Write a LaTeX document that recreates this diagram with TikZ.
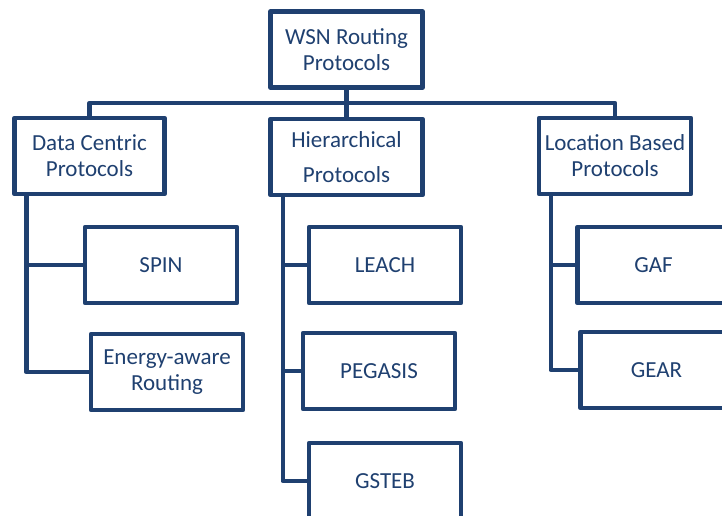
\documentclass[tikz,border=0pt]{standalone}
\usepackage{fontspec}
\setmainfont{Carlito}
\definecolor{navy}{RGB}{31,64,112}

\begin{document}
\begin{tikzpicture}[x=1pt,y=-1pt,
  box/.style={draw=navy,line width=4.5pt,line join=round,text=navy,
    minimum width=152pt,minimum height=76pt,align=center,
    font=\fontsize{23}{26}\selectfont},
  link/.style={draw=navy,line width=4.5pt,line join=round}]
  \useasboundingbox (0,0) rectangle (722,516);
  \clip (0,0) rectangle (722,516);
  \node[box] (root) at (346.5,49.5) {WSN Routing\\Protocols};
  \node[box,minimum width=150pt] (dc) at (89.5,156) {Data Centric\\Protocols};
  \node[box] (hier) at (346.5,157) {Hierarchical\\[9pt]Protocols};
  \node[box] (loc) at (615,156) {Location Based\\Protocols};
  \node[box] (spin) at (161,265) {SPIN};
  \node[box] (energy) at (167,372) {Energy-aware\\Routing};
  \node[box] (leach) at (385,265) {LEACH};
  \node[box] (pegasis) at (379,371) {PEGASIS};
  \node[box] (gsteb) at (385,481) {GSTEB};
  \node[box] (gaf) at (653.5,265) {GAF};
  \node[box] (gear) at (656.5,370) {GEAR};
  \coordinate (bar) at (346.5,103);
  \coordinate (dcs) at ([xshift=14pt]dc.south west);
  \coordinate (hs) at ([xshift=14.5pt]hier.south west);
  \coordinate (ls) at ([xshift=14pt]loc.south west);
  \draw[link] (root) -- (hier);
  \draw[link] (dc.north) |- (bar) -| (loc.north);
  \draw[link] (dcs) |- (energy.west);
  \draw[link] (spin.west) -- (spin.west -| dcs);
  \draw[link] (hs) |- (gsteb.west);
  \draw[link] (leach.west) -- (leach.west -| hs);
  \draw[link] (pegasis.west) -- (pegasis.west -| hs);
  \draw[link] (ls) |- (gear.west);
  \draw[link] (gaf.west) -- (gaf.west -| ls);
\end{tikzpicture}
\end{document}
